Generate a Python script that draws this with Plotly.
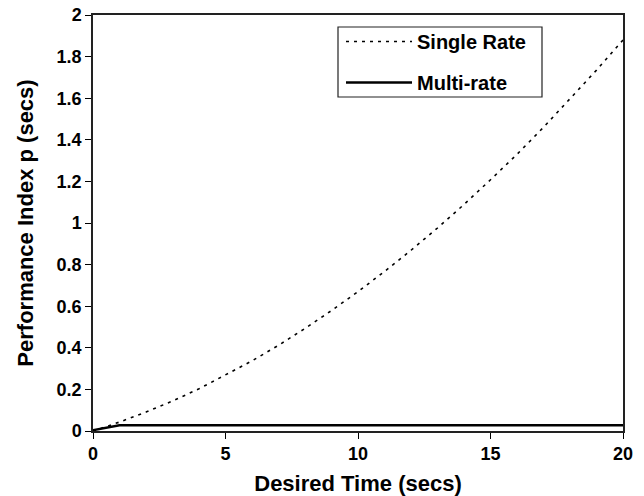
import plotly.graph_objects as go

x_single = list(range(0, 21))
y_single = [0, 0.043, 0.091, 0.144, 0.203, 0.268, 0.337, 0.412, 0.493, 0.579, 0.67,
            0.767, 0.869, 0.976, 1.089, 1.208, 1.33, 1.46, 1.595, 1.735, 1.88]
x_multi = [0, 1, 20]
y_multi = [0.004, 0.028, 0.028]

x_ticks = [0, 5, 10, 15, 20]
y_ticks = [0, 0.2, 0.4, 0.6, 0.8, 1, 1.2, 1.4, 1.6, 1.8, 2]
y_tick_labels = ["0", "0.2", "0.4", "0.6", "0.8", "1", "1.2", "1.4", "1.6", "1.8", "2"]

FAM = "Liberation Sans, Arial, Helvetica, sans-serif"
L, R, T, B = 93, 21, 15, 65
W, H = 644, 496
PW, PH = W - L - R, H - T - B


def px(xp):
    return (xp - L) / PW


def py(yp):
    return (H - B - yp) / PH


fig = go.Figure()
fig.add_trace(go.Scatter(x=x_single, y=y_single, mode="lines", name="<b>Single Rate</b>",
                         legendgroup="a",
                         line=dict(color="black", width=1.6, dash="3px,5px")))
fig.add_trace(go.Scatter(x=x_multi, y=y_multi, mode="lines", name="<b>Multi-rate</b>",
                         legendgroup="b",
                         line=dict(color="black", width=2.5)))

# legend frame
fig.add_shape(type="rect", xref="paper", yref="paper",
              x0=px(338), x1=px(542), y0=py(97), y1=py(27),
              line=dict(color="#222", width=1.2), fillcolor="white", layer="below")

fig.update_layout(
    width=W, height=H,
    margin=dict(l=L, r=R, t=T, b=B),
    paper_bgcolor="white", plot_bgcolor="white",
    font=dict(family=FAM, color="black", size=18),
    showlegend=True,
    legend=dict(x=px(341), y=py(22), xanchor="left", yanchor="top",
                borderwidth=0, bgcolor="rgba(0,0,0,0)",
                font=dict(size=20, family=FAM, color="black"),
                itemwidth=66, tracegroupgap=12),
    xaxis=dict(range=[0, 20], tickvals=x_ticks,
               ticktext=["<b>%s</b>" % t for t in x_ticks],
               ticks="outside", ticklen=6, tickwidth=1.3, tickcolor="black", showgrid=False,
               zeroline=False, showline=True, linecolor="#222", linewidth=1.5, mirror=True,
               automargin=False,
               title=dict(text="<b>Desired Time (secs)</b>", font=dict(size=22), standoff=12),
               tickfont=dict(size=18)),
    yaxis=dict(range=[0, 2], tickvals=y_ticks,
               ticktext=["<b>%s</b>" % t for t in y_tick_labels],
               ticks="outside", ticklen=6, tickwidth=1.3, tickcolor="black", showgrid=False,
               zeroline=False, showline=True, linecolor="#222", linewidth=1.5, mirror=True,
               automargin=False,
               title=dict(text="<b>Performance Index p (secs)</b>", font=dict(size=22), standoff=17),
               tickfont=dict(size=18)),
)

fig.write_html("out.html", config={"displayModeBar": False},
               post_script="document.body.style.margin='0';document.body.style.overflow='hidden';")
